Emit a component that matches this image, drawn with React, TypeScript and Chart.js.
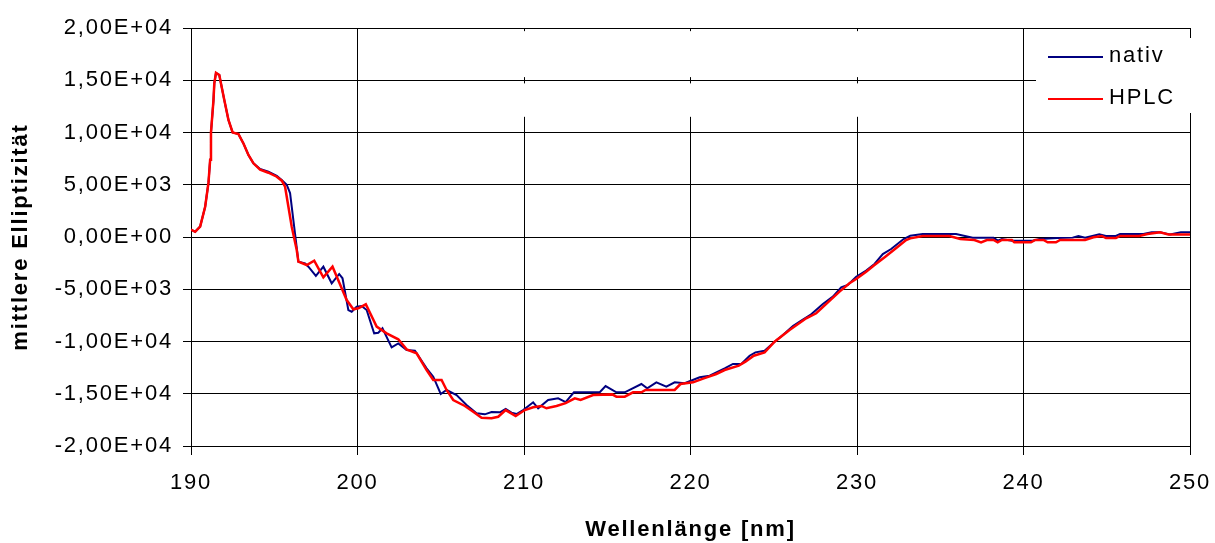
import React, { useEffect, useRef } from 'react';
import { Chart, registerables } from 'chart.js';

Chart.register(...registerables);

// ---- data ----
const seriesNames = ['nativ', 'HPLC'];
const seriesColors = ['#000080', '#FF0000'];
const xTitle = 'Wellenlänge [nm]';
const yTitle = 'mittlere Elliptizität';
const xMin = 190;
const xMax = 250;
const xStep = 10;
const yMin = -20000;
const yMax = 20000;
const yStep = 5000;

const nativX = [
  190.0, 190.25, 190.55, 190.85, 191.05, 191.15, 191.2, 191.35, 191.4, 191.5,
  191.7, 191.8, 192.0, 192.25, 192.5, 192.85, 193.15, 193.45, 193.75, 194.15,
  194.65, 195.15, 195.45, 195.75, 195.95, 196.15, 196.25, 196.45, 196.85, 197.05,
  197.5, 197.95, 198.45, 198.9, 199.1, 199.45, 199.65, 199.95, 200.25, 200.55,
  201.0, 201.25, 201.5, 202.05, 202.45, 202.95, 203.45, 204.15, 204.55, 205.0,
  205.35, 205.95, 206.55, 207.15, 207.65, 208.05, 208.55, 208.9, 209.25, 209.55,
  209.95, 210.55, 210.85, 211.45, 212.05, 212.5, 213.0, 214.55, 214.9, 215.55,
  216.05, 217.05, 217.4, 217.95, 218.55, 219.05, 219.65, 220.55, 221.15, 222.05,
  222.55, 223.05, 223.55, 223.9, 224.45, 225.05, 225.55, 226.15, 226.7, 227.2,
  227.95, 228.55, 229.05, 229.45, 229.95, 230.55, 231.05, 231.55, 232.05, 232.8,
  233.2, 233.95, 235.95, 236.95, 238.2, 238.45, 238.7, 239.3, 240.55, 240.95,
  242.05, 242.95, 243.3, 243.7, 244.55, 244.95, 245.55, 245.8, 247.2, 247.7,
  248.2, 248.8, 249.45, 250.0,
];
const nativY = [
  700, 500, 1000, 2900, 5200, 7400, 10000, 13100, 14700, 15700,
  15500, 14700, 13100, 11200, 10000, 9850, 8950, 7850, 7050, 6500,
  6250, 5850, 5450, 5000, 4200, 1600, 300, -2360, -2520, -2840,
  -3730, -2840, -4430, -3540, -3950, -6990, -7150, -6670, -6600, -6990,
  -9220, -9160, -8740, -10560, -10180, -10810, -10880, -12570, -13370, -15020,
  -14640, -15120, -16080, -16870, -16970, -16750, -16780, -16460, -16810, -16940,
  -16560, -15820, -16390, -15600, -15440, -15800, -14860, -14860, -14260, -14860,
  -14860, -14070, -14480, -13910, -14320, -13910, -14000, -13430, -13270, -12570,
  -12150, -12150, -11360, -11040, -10880, -10020, -9380, -8520, -7940, -7460,
  -6410, -5710, -4820, -4590, -3800, -3220, -2580, -1630, -1150, -190,
  130, 290, 290, -60, -60, -350, -190, -350, -350, -190,
  -100, -60, 100, -60, 250, 100, 100, 290, 290, 450,
  450, 250, 450, 450,
];

const hplcX = [
  190.0, 190.25, 190.55, 190.85, 191.05, 191.15, 191.2, 191.35, 191.4, 191.5,
  191.7, 191.8, 192.0, 192.25, 192.5, 192.85, 193.15, 193.45, 193.75, 194.15,
  194.65, 195.15, 195.45, 195.65, 195.85, 196.05, 196.35, 196.45, 196.95, 197.4,
  197.95, 198.5, 199.05, 199.35, 199.75, 200.05, 200.5, 201.15, 201.75, 202.45,
  202.95, 203.55, 204.15, 204.55, 205.05, 205.35, 205.75, 206.45, 206.95, 207.45,
  208.05, 208.45, 208.9, 209.5, 210.05, 210.55, 211.05, 211.35, 211.95, 212.5,
  213.05, 213.4, 214.15, 215.3, 215.55, 216.05, 216.55, 217.05, 217.3, 219.05,
  219.4, 220.15, 220.8, 221.55, 222.05, 222.9, 223.3, 223.8, 224.45, 225.05,
  225.95, 226.95, 227.55, 228.3, 228.95, 229.55, 229.95, 230.55, 231.05, 231.7,
  232.45, 232.95, 233.2, 233.95, 235.55, 236.2, 237.05, 237.45, 237.8, 238.2,
  238.45, 238.7, 239.3, 239.45, 240.45, 240.7, 241.2, 241.45, 241.95, 242.2,
  243.7, 244.2, 244.7, 244.95, 245.55, 245.8, 246.95, 247.45, 248.2, 248.7,
  250.0,
];
const hplcY = [
  700, 500, 1000, 2900, 5200, 7400, 10000, 13100, 14700, 15700,
  15500, 14700, 13100, 11200, 10000, 9850, 8950, 7850, 7050, 6450,
  6150, 5770, 5390, 4810, 2900, 990, -1240, -2360, -2680, -2270,
  -3860, -2840, -4910, -6030, -6920, -6820, -6440, -8580, -9220, -9790,
  -10750, -11130, -12730, -13690, -13690, -14640, -15600, -16170, -16720, -17290,
  -17350, -17200, -16560, -17130, -16560, -16300, -16170, -16390, -16170, -15900,
  -15440, -15600, -15120, -15060, -15280, -15280, -14860, -14860, -14640, -14640,
  -14070, -13910, -13530, -13110, -12730, -12310, -11930, -11360, -11040, -10020,
  -8900, -7780, -7300, -6190, -5230, -4430, -4020, -3320, -2680, -1880,
  -930, -290, -130, 100, 100, -190, -290, -510, -290, -290,
  -510, -290, -290, -510, -510, -290, -290, -510, -510, -290,
  -290, -30, 100, -100, -100, 100, 100, 290, 450, 250,
  250,
];

// vertical grid segments that are blank in the original (value ranges)
const gapXs = [210, 220, 230];
const gapRanges = [[19700, 15300], [14700, 11500]];

const FONT = "'Liberation Sans', Arial, Helvetica, sans-serif";
const SPACING = '1.8px';

function fmtSci(v: number): string {
  if (v === 0) return '0,00E+00';
  const exp = Math.floor(Math.log10(Math.abs(v)) + 1e-9);
  const m = v / Math.pow(10, exp);
  return (
    m.toFixed(2).replace('.', ',') +
    'E' +
    (exp < 0 ? '-' : '+') +
    String(Math.abs(exp)).padStart(2, '0')
  );
}

const spacingPlugin = {
  id: 'letterSpacing',
  beforeDraw(chart: any) {
    (chart.ctx as any).letterSpacing = SPACING;
  },
};

const gapPlugin = {
  id: 'gridGaps',
  beforeDatasetsDraw(chart: any) {
    const { ctx, scales } = chart;
    const xs = scales.x;
    const ys = scales.y;
    ctx.save();
    ctx.strokeStyle = '#ffffff';
    ctx.lineWidth = 3;
    for (const v of gapXs) {
      const px = xs.getPixelForValue(v);
      for (const [a, b] of gapRanges) {
        ctx.beginPath();
        ctx.moveTo(px, ys.getPixelForValue(a));
        ctx.lineTo(px, ys.getPixelForValue(b));
        ctx.stroke();
      }
    }
    ctx.restore();
  },
};

const legendPlugin = {
  id: 'boxLegend',
  afterDraw(chart: any) {
    const { ctx, chartArea } = chart;
    const left = chartArea.right - 154;
    const top = chartArea.top + 10;
    ctx.save();
    ctx.fillStyle = '#ffffff';
    ctx.fillRect(left, top, 157, 75);
    (ctx as any).letterSpacing = SPACING;
    ctx.font = `22px ${FONT}`;
    ctx.textBaseline = 'middle';
    ctx.textAlign = 'left';
    const rowY = [top + 19, top + 61];
    seriesNames.forEach((name, i) => {
      ctx.strokeStyle = seriesColors[i];
      ctx.lineWidth = 2;
      ctx.beginPath();
      ctx.moveTo(left + 12, rowY[i]);
      ctx.lineTo(left + 67, rowY[i]);
      ctx.stroke();
      ctx.fillStyle = '#000000';
      ctx.fillText(name, left + 73, rowY[i] - 1);
    });
    ctx.restore();
  },
};

export default function App() {
  const canvasRef = useRef<HTMLCanvasElement | null>(null);

  useEffect(() => {
    const canvas = canvasRef.current;
    if (!canvas) return;
    const nativ = nativX.map((x, i) => ({ x, y: nativY[i] }));
    const hplc = hplcX.map((x, i) => ({ x, y: hplcY[i] }));
    const chart = new Chart(canvas, {
      type: 'line',
      data: {
        datasets: [
          {
            label: seriesNames[0],
            data: nativ,
            borderColor: seriesColors[0],
            backgroundColor: seriesColors[0],
            borderWidth: 2,
            pointRadius: 0,
            tension: 0,
            fill: false,
            order: 1,
          },
          {
            label: seriesNames[1],
            data: hplc,
            borderColor: seriesColors[1],
            backgroundColor: seriesColors[1],
            borderWidth: 2.5,
            pointRadius: 0,
            tension: 0,
            fill: false,
            order: 0,
          },
        ],
      },
      options: {
        responsive: false,
        animation: false,
        events: [],
        layout: { padding: { left: 0, top: 28, right: 25, bottom: 0 } },
        plugins: {
          legend: { display: false },
          tooltip: { enabled: false },
          title: { display: false },
        },
        scales: {
          x: {
            type: 'linear',
            min: xMin,
            max: xMax,
            grid: {
              color: '#000000',
              lineWidth: 1,
              tickLength: 9,
              drawTicks: true,
            },
            border: { color: '#000000', width: 1 },
            ticks: {
              stepSize: xStep,
              color: '#000000',
              font: { family: FONT, size: 22 },
              padding: 15,
              maxRotation: 0,
              autoSkip: false,
            },
            title: {
              display: true,
              text: xTitle,
              color: '#000000',
              font: { family: FONT, size: 22, weight: 'bold' },
              padding: { top: 8, bottom: 0 },
            },
            afterFit(scale: any) {
              scale.height = 97;
              scale.paddingLeft = 0;
              scale.paddingRight = 0;
            },
          },
          y: {
            type: 'linear',
            min: yMin,
            max: yMax,
            grid: {
              color: '#000000',
              lineWidth: 1,
              tickLength: 8,
              drawTicks: true,
            },
            border: { color: '#000000', width: 1 },
            ticks: {
              stepSize: yStep,
              color: '#000000',
              font: { family: FONT, size: 22 },
              padding: 10,
              callback: (v: any) => fmtSci(Number(v)),
            },
            title: {
              display: true,
              text: yTitle,
              color: '#000000',
              font: { family: FONT, size: 22, weight: 'bold' },
              padding: { top: 8, bottom: 0 },
            },
            afterFit(scale: any) {
              scale.width = 191;
              scale.paddingTop = 0;
              scale.paddingBottom = 0;
            },
          },
        },
      } as any,
      plugins: [spacingPlugin, gapPlugin, legendPlugin],
    });
    return () => chart.destroy();
  }, []);

  return (
    <div style={{ position: 'absolute', left: 0, top: 0, width: 1215, height: 543, background: '#ffffff' }}>
      <canvas ref={canvasRef} width={1215} height={543} />
    </div>
  );
}
